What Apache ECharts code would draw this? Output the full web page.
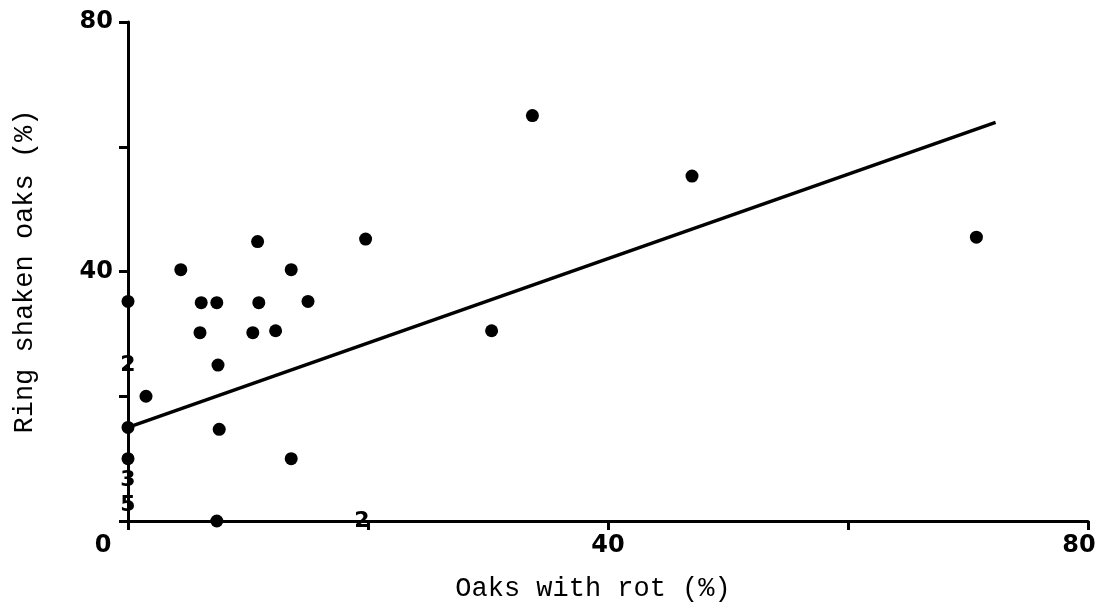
<!DOCTYPE html>
<html>
<head>
<meta charset="utf-8">
<script src="https://cdn.jsdelivr.net/npm/echarts@6/dist/echarts.min.js"></script>
<style>
  html, body { margin: 0; padding: 0; background: #fff; }
  #chart { width: 1113px; height: 608px; }
</style>
</head>
<body>
<div id="chart"></div>
<script>
// [oaks with rot %, ring shaken oaks %]
var oakPoints = [
    [0, 35.2], [1.5, 20], [0, 15], [0, 10],
    [4.4, 40.3], [6.1, 35], [6.0, 30.2], [7.4, 35], [7.5, 25], [7.6, 14.7], [7.4, 0],
    [10.8, 44.8], [10.9, 35], [10.4, 30.2], [12.3, 30.5], [13.6, 40.3], [15.0, 35.2], [13.6, 10],
    [19.8, 45.2], [30.3, 30.5], [33.7, 65], [47, 55.3], [70.7, 45.5]
];
// points where several stands coincide: [x, y, count]
var stackedPoints = [
    [0, 25, 2], [0, 6.5, 3], [0, 2.5, 5], [19.5, 0, 2]
];
var fitLine = [[0, 15], [72.3, 63.9]];
var xLabels = [0, 40, 80];
var yLabels = [40, 80];

var chart = echarts.init(document.getElementById('chart'));

var monoFont = '"Liberation Mono", "DejaVu Sans Mono", monospace';
var tickFont = '"DejaVu Sans", "Liberation Sans", sans-serif';

option = {
    animation: false,
    grid: {
        left: 128,
        right: 25,
        top: 22,
        bottom: 87,
        outerBoundsMode: 'none',
        containLabel: false
    },
    xAxis: {
        type: 'value',
        min: 0,
        max: 80,
        interval: 20,
        name: 'Oaks with rot (%)',
        nameLocation: 'middle',
        nameGap: 54,
        nameTextStyle: { fontFamily: monoFont, fontSize: 27, color: '#000', padding: [0, 30, 0, 0] },
        axisLine: { onZero: false, lineStyle: { color: '#000', width: 3 } },
        axisTick: { length: 9, lineStyle: { color: '#000', width: 3 } },
        axisLabel: {
            margin: 13,
            color: '#000',
            fontFamily: tickFont,
            fontWeight: 'bold',
            fontSize: 24,
            formatter: function (v) {
                if (xLabels.indexOf(v) < 0) return '';
                if (v === 0) return '{zero|0}';
                if (v === 80) return '{end|80}';
                return String(v);
            },
            rich: {
                zero: { fontFamily: tickFont, fontWeight: 'bold', fontSize: 24, color: '#000', padding: [0, 50, 0, 0] },
                end: { fontFamily: tickFont, fontWeight: 'bold', fontSize: 24, color: '#000', padding: [0, 18, 0, 0] }
            }
        },
        splitLine: { show: false }
    },
    yAxis: {
        type: 'value',
        min: 0,
        max: 80,
        interval: 20,
        name: 'Ring shaken oaks (%)',
        nameLocation: 'middle',
        nameGap: 90,
        nameTextStyle: { fontFamily: monoFont, fontSize: 27, color: '#000' },
        axisLine: { show: true, onZero: false, lineStyle: { color: '#000', width: 3 } },
        axisTick: { show: true, length: 9, lineStyle: { color: '#000', width: 3 } },
        axisLabel: {
            margin: 15,
            color: '#000',
            fontFamily: tickFont,
            fontWeight: 'bold',
            fontSize: 24,
            formatter: function (v) {
                return yLabels.indexOf(v) < 0 ? '' : String(v);
            }
        },
        splitLine: { show: false }
    },
    series: [{
        name: 'fit',
        type: 'line',
        data: fitLine,
        symbol: 'none',
        lineStyle: { color: '#000', width: 3.5 },
        z: 2
    }, {
        name: 'stands',
        type: 'scatter',
        data: oakPoints,
        symbolSize: 13,
        itemStyle: { color: '#000', opacity: 1 },
        z: 3
    }, {
        name: 'stacked',
        type: 'scatter',
        data: stackedPoints,
        symbolSize: 1,
        itemStyle: { color: '#000', opacity: 1 },
        label: {
            show: true,
            position: 'inside',
            color: '#000',
            textBorderWidth: 0,
            fontFamily: tickFont,
            fontWeight: 'bold',
            fontSize: 22,
            formatter: function (p) { return String(p.value[2]); }
        },
        z: 4
    }]
};

chart.setOption(option);
</script>
</body>
</html>
